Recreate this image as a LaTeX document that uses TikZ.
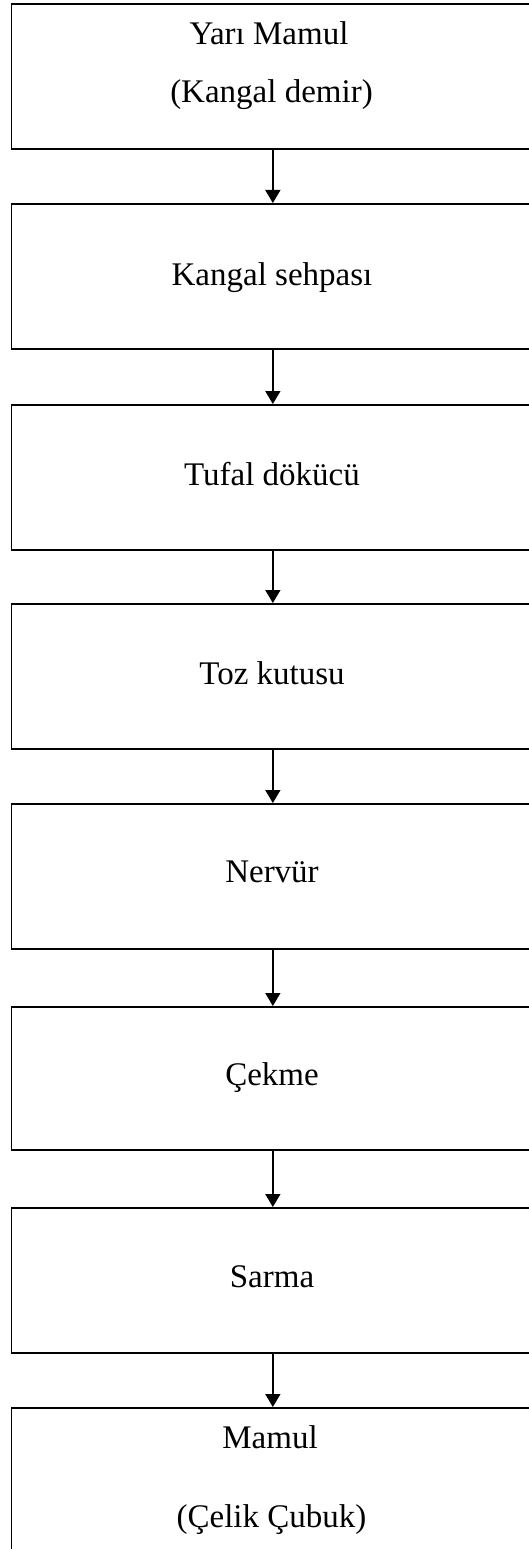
\documentclass[tikz,border=0pt]{standalone}
\usepackage{fontspec}
\setmainfont{Liberation Serif}
\usetikzlibrary{arrows.meta}
\begin{document}
\begin{tikzpicture}[x=1pt,y=-1pt,
  stagebox/.style={draw=black,line width=1.7pt,rectangle,inner sep=0pt,
    minimum width=523pt,minimum height=145pt,anchor=north west},
  caption/.style={anchor=base,inner sep=0pt,font=\fontsize{33}{40}\selectfont},
  flow/.style={line width=1.5pt,-{Triangle[width=15pt,length=13pt]}}]
\useasboundingbox (0,0) rectangle (529,1549);
\clip (0,0) rectangle (529,1549);
\fill[white] (0,0) rectangle (529,1549);

% process stages, top to bottom
\node[stagebox] (b1) at (10.5,3) {};
\node[stagebox] (b2) at (10.5,203) {};
\node[stagebox] (b3) at (10.5,404) {};
\node[stagebox] (b4) at (10.5,603) {};
\node[stagebox] (b5) at (10.5,803) {};
\node[stagebox,minimum height=143pt] (b6) at (10.5,1006) {};
\node[stagebox] (b7) at (10.5,1207) {};
\node[stagebox,minimum height=170pt] (b8) at (10.5,1407) {};

% labels
\node[caption] (t1a) at (269,45) {Yarı Mamul};
\node[caption] (t1b) at (271.5,103) {(Kangal demir)};
\node[caption] (t2) at (272,285) {Kangal sehpası};
\node[caption] (t3) at (272,485) {Tufal dökücü};
\node[caption] (t4) at (272,684) {Toz kutusu};
\node[caption] (t5) at (272,882) {Nervür};
\node[caption] (t6) at (272,1085) {Çekme};
\node[caption] (t7) at (272,1287) {Sarma};
\node[caption] (t8a) at (270,1448) {Mamul};
\node[caption] (t8b) at (271.5,1527) {(Çelik Çubuk)};

% connectors
\draw[flow] (b1.south) -- (b2.north);
\draw[flow] (b2.south) -- (b3.north);
\draw[flow] (b3.south) -- (b4.north);
\draw[flow] (b4.south) -- (b5.north);
\draw[flow] (b5.south) -- (b6.north);
\draw[flow] (b6.south) -- (b7.north);
\draw[flow] (b7.south) -- (b8.north);
\end{tikzpicture}
\end{document}
